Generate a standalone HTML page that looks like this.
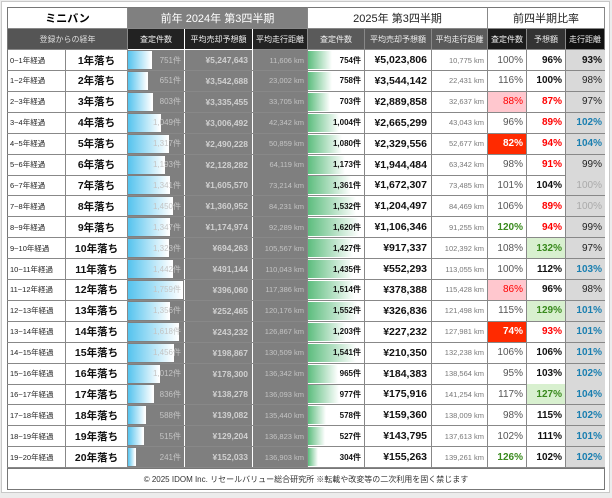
<!DOCTYPE html>
<html><head><meta charset="utf-8">
<style>
*{box-sizing:border-box;margin:0;padding:0}
body{width:612px;height:498px;background:#ececec;font-family:"Liberation Sans","Noto Sans CJK JP",sans-serif;position:relative;overflow:hidden}
#card{position:absolute;left:1px;top:1px;width:609px;height:492px;background:#fff;border:1px solid #c8c8c8}
.h{position:absolute;display:flex;align-items:center;justify-content:center;border-right:1px solid #888;border-bottom:1px solid #888;white-space:nowrap}
.r{position:absolute;left:7px;width:598px;height:21px;display:flex;border-bottom:1px solid #888}
.r>div{height:100%;display:flex;align-items:center;position:relative;border-right:1px solid #888;white-space:nowrap}
.a{width:59px;font-size:7.5px;padding-left:3px;color:#222}
.b{width:62px;font-size:10.5px;font-weight:bold;justify-content:center;color:#111}
.c{width:57px;background:#7f7f7f;justify-content:flex-end;padding-right:3px;font-size:8px;color:#c4c4c4;border-right:1px solid #fff!important}
.d{width:68px;background:#7f7f7f;justify-content:flex-end;padding-right:4px;font-size:8.5px;font-weight:bold;color:#d0d0d0;border-right:1px solid #fff!important}
.e{width:55px;background:#7f7f7f;justify-content:flex-end;padding-right:3px;font-size:7.5px;color:#c4c4c4}
.f{width:57px;justify-content:flex-end;padding-right:3px;font-size:8px;font-weight:bold;color:#111}
.g{width:67px;justify-content:flex-end;padding-right:4px;font-size:10.5px;font-weight:bold;color:#111}
.i{width:56px;justify-content:flex-end;padding-right:3px;font-size:7.5px;color:#777}
.j{width:39px;justify-content:flex-end;padding-right:3px;font-size:10px;color:#555}
.k{width:39px;justify-content:flex-end;padding-right:3px;font-size:10px;font-weight:bold;color:#111}
.l{width:39px;justify-content:flex-end;padding-right:3px;font-size:10px;color:#222;background:#d9d9d9;border-right:none!important}
.bb{position:absolute;left:0;top:1px;bottom:1px;background:linear-gradient(90deg,#55c3ee,#fff);border-right:1px solid #fff}
.gb{position:absolute;left:0;top:1px;bottom:1px;background:linear-gradient(90deg,#5dbd7e,#fff)}
.t{position:relative}
.red{color:#f00;font-weight:bold}
.pink{background:#ffc7ce;color:#f00}
.rb{background:#ff2a00;color:#fff;font-weight:bold}
.gr{color:#3a8a1e;font-weight:bold}
.gbg{background:#d8f0cf;color:#3a8a1e;font-weight:bold}
.bl{color:#1a7fb0;font-weight:bold}
.gy{color:#aaa}
.bk{font-weight:bold;color:#111}
.s{font-size:8px}
</style></head><body>
<div id="card"></div>
<div style="position:absolute;left:7px;top:7px;width:598px;height:461px;border:1px solid #777;border-bottom:none"></div>
<div class="h" style="left:7px;top:7px;width:121px;height:22px;font-size:11px;font-weight:bold;background:#fff;border-left:1px solid #777;border-top:1px solid #777">ミニバン</div>
<div class="h" style="left:128px;top:7px;width:180px;height:22px;font-size:11px;background:#808080;color:#fff;border-top:1px solid #777">前年 2024年 第3四半期</div>
<div class="h" style="left:308px;top:7px;width:180px;height:22px;font-size:11px;background:#fff;color:#222;border-top:1px solid #777">2025年 第3四半期</div>
<div class="h" style="left:488px;top:7px;width:117px;height:22px;font-size:11px;background:#fff;color:#222;border-top:1px solid #777">前四半期比率</div>
<div class="h s" style="left:7px;top:29px;width:121px;height:21px;background:#555;color:#ddd;border-left:1px solid #777">登録からの経年</div>
<div class="h s" style="left:128px;top:29px;width:57px;height:21px;background:#222;color:#eee;border-color:#fff">査定件数</div>
<div class="h s" style="left:185px;top:29px;width:68px;height:21px;background:#222;color:#eee;border-color:#fff">平均売却予想額</div>
<div class="h s" style="left:253px;top:29px;width:55px;height:21px;background:#222;color:#eee">平均走行距離</div>
<div class="h s" style="left:308px;top:29px;width:57px;height:21px;background:#5a5a5a;color:#eee">査定件数</div>
<div class="h s" style="left:365px;top:29px;width:67px;height:21px;background:#5a5a5a;color:#eee">平均売却予想額</div>
<div class="h s" style="left:432px;top:29px;width:56px;height:21px;background:#5a5a5a;color:#eee">平均走行距離</div>
<div class="h s" style="left:488px;top:29px;width:39px;height:21px;background:#1c1c1c;color:#eee">査定件数</div>
<div class="h s" style="left:527px;top:29px;width:39px;height:21px;background:#333;color:#eee">予想額</div>
<div class="h s" style="left:566px;top:29px;width:39px;height:21px;background:#111;color:#eee;border-right:1px solid #777">走行距離</div>

<div class="r" style="top:50px"><div class="a">0~1年経過</div><div class="b">1年落ち</div><div class="c"><i class="bb" style="width:23.5px"></i><span class="t">751件</span></div><div class="d">¥5,247,643</div><div class="e">11,606 km</div><div class="f"><i class="gb" style="width:23.6px"></i><span class="t">754件</span></div><div class="g">¥5,023,806</div><div class="i">10,775 km</div><div class="j">100%</div><div class="k">96%</div><div class="l bk">93%</div></div>
<div class="r" style="top:70.9px"><div class="a">1~2年経過</div><div class="b">2年落ち</div><div class="c"><i class="bb" style="width:20.4px"></i><span class="t">651件</span></div><div class="d">¥3,542,688</div><div class="e">23,002 km</div><div class="f"><i class="gb" style="width:23.7px"></i><span class="t">758件</span></div><div class="g">¥3,544,142</div><div class="i">22,431 km</div><div class="j">116%</div><div class="k">100%</div><div class="l">98%</div></div>
<div class="r" style="top:91.8px"><div class="a">2~3年経過</div><div class="b">3年落ち</div><div class="c"><i class="bb" style="width:25.1px"></i><span class="t">803件</span></div><div class="d">¥3,335,455</div><div class="e">33,705 km</div><div class="f"><i class="gb" style="width:22px"></i><span class="t">703件</span></div><div class="g">¥2,889,858</div><div class="i">32,637 km</div><div class="j pink">88%</div><div class="k red">87%</div><div class="l">97%</div></div>
<div class="r" style="top:112.7px"><div class="a">3~4年経過</div><div class="b">4年落ち</div><div class="c"><i class="bb" style="width:32.8px"></i><span class="t">1,049件</span></div><div class="d">¥3,006,492</div><div class="e">42,342 km</div><div class="f"><i class="gb" style="width:31.4px"></i><span class="t">1,004件</span></div><div class="g">¥2,665,299</div><div class="i">43,043 km</div><div class="j">96%</div><div class="k red">89%</div><div class="l bl">102%</div></div>
<div class="r" style="top:133.6px"><div class="a">4~5年経過</div><div class="b">5年落ち</div><div class="c"><i class="bb" style="width:41.2px"></i><span class="t">1,317件</span></div><div class="d">¥2,490,228</div><div class="e">50,859 km</div><div class="f"><i class="gb" style="width:33.8px"></i><span class="t">1,080件</span></div><div class="g">¥2,329,556</div><div class="i">52,677 km</div><div class="j rb">82%</div><div class="k red">94%</div><div class="l bl">104%</div></div>
<div class="r" style="top:154.5px"><div class="a">5~6年経過</div><div class="b">6年落ち</div><div class="c"><i class="bb" style="width:37.3px"></i><span class="t">1,193件</span></div><div class="d">¥2,128,282</div><div class="e">64,119 km</div><div class="f"><i class="gb" style="width:36.7px"></i><span class="t">1,173件</span></div><div class="g">¥1,944,484</div><div class="i">63,342 km</div><div class="j">98%</div><div class="k red">91%</div><div class="l">99%</div></div>
<div class="r" style="top:175.4px"><div class="a">6~7年経過</div><div class="b">7年落ち</div><div class="c"><i class="bb" style="width:41.9px"></i><span class="t">1,341件</span></div><div class="d">¥1,605,570</div><div class="e">73,214 km</div><div class="f"><i class="gb" style="width:42.6px"></i><span class="t">1,361件</span></div><div class="g">¥1,672,307</div><div class="i">73,485 km</div><div class="j">101%</div><div class="k">104%</div><div class="l gy">100%</div></div>
<div class="r" style="top:196.3px"><div class="a">7~8年経過</div><div class="b">8年落ち</div><div class="c"><i class="bb" style="width:45.3px"></i><span class="t">1,450件</span></div><div class="d">¥1,360,952</div><div class="e">84,231 km</div><div class="f"><i class="gb" style="width:47.9px"></i><span class="t">1,532件</span></div><div class="g">¥1,204,497</div><div class="i">84,469 km</div><div class="j">106%</div><div class="k red">89%</div><div class="l gy">100%</div></div>
<div class="r" style="top:217.2px"><div class="a">8~9年経過</div><div class="b">9年落ち</div><div class="c"><i class="bb" style="width:42.1px"></i><span class="t">1,347件</span></div><div class="d">¥1,174,974</div><div class="e">92,289 km</div><div class="f"><i class="gb" style="width:50.7px"></i><span class="t">1,620件</span></div><div class="g">¥1,106,346</div><div class="i">91,255 km</div><div class="j gr">120%</div><div class="k red">94%</div><div class="l">99%</div></div>
<div class="r" style="top:238.1px"><div class="a">9~10年経過</div><div class="b">10年落ち</div><div class="c"><i class="bb" style="width:41.4px"></i><span class="t">1,323件</span></div><div class="d">¥694,263</div><div class="e">105,567 km</div><div class="f"><i class="gb" style="width:44.6px"></i><span class="t">1,427件</span></div><div class="g">¥917,337</div><div class="i">102,392 km</div><div class="j">108%</div><div class="k gbg">132%</div><div class="l">97%</div></div>
<div class="r" style="top:259px"><div class="a">10~11年経過</div><div class="b">11年落ち</div><div class="c"><i class="bb" style="width:45.1px"></i><span class="t">1,442件</span></div><div class="d">¥491,144</div><div class="e">110,043 km</div><div class="f"><i class="gb" style="width:44.9px"></i><span class="t">1,435件</span></div><div class="g">¥552,293</div><div class="i">113,055 km</div><div class="j">100%</div><div class="k">112%</div><div class="l bl">103%</div></div>
<div class="r" style="top:279.9px"><div class="a">11~12年経過</div><div class="b">12年落ち</div><div class="c"><i class="bb" style="width:55px"></i><span class="t">1,759件</span></div><div class="d">¥396,060</div><div class="e">117,386 km</div><div class="f"><i class="gb" style="width:47.3px"></i><span class="t">1,514件</span></div><div class="g">¥378,388</div><div class="i">115,428 km</div><div class="j pink">86%</div><div class="k">96%</div><div class="l">98%</div></div>
<div class="r" style="top:300.8px"><div class="a">12~13年経過</div><div class="b">13年落ち</div><div class="c"><i class="bb" style="width:42.4px"></i><span class="t">1,356件</span></div><div class="d">¥252,465</div><div class="e">120,176 km</div><div class="f"><i class="gb" style="width:48.5px"></i><span class="t">1,552件</span></div><div class="g">¥326,836</div><div class="i">121,498 km</div><div class="j">115%</div><div class="k gbg">129%</div><div class="l bl">101%</div></div>
<div class="r" style="top:321.7px"><div class="a">13~14年経過</div><div class="b">14年落ち</div><div class="c"><i class="bb" style="width:50.6px"></i><span class="t">1,618件</span></div><div class="d">¥243,232</div><div class="e">126,867 km</div><div class="f"><i class="gb" style="width:37.6px"></i><span class="t">1,203件</span></div><div class="g">¥227,232</div><div class="i">127,981 km</div><div class="j rb">74%</div><div class="k red">93%</div><div class="l bl">101%</div></div>
<div class="r" style="top:342.6px"><div class="a">14~15年経過</div><div class="b">15年落ち</div><div class="c"><i class="bb" style="width:45.5px"></i><span class="t">1,456件</span></div><div class="d">¥198,867</div><div class="e">130,509 km</div><div class="f"><i class="gb" style="width:48.2px"></i><span class="t">1,541件</span></div><div class="g">¥210,350</div><div class="i">132,238 km</div><div class="j">106%</div><div class="k">106%</div><div class="l bl">101%</div></div>
<div class="r" style="top:363.5px"><div class="a">15~16年経過</div><div class="b">16年落ち</div><div class="c"><i class="bb" style="width:31.6px"></i><span class="t">1,012件</span></div><div class="d">¥178,300</div><div class="e">136,342 km</div><div class="f"><i class="gb" style="width:30.2px"></i><span class="t">965件</span></div><div class="g">¥184,383</div><div class="i">138,564 km</div><div class="j">95%</div><div class="k">103%</div><div class="l bl">102%</div></div>
<div class="r" style="top:384.4px"><div class="a">16~17年経過</div><div class="b">17年落ち</div><div class="c"><i class="bb" style="width:26.1px"></i><span class="t">836件</span></div><div class="d">¥138,278</div><div class="e">136,093 km</div><div class="f"><i class="gb" style="width:30.5px"></i><span class="t">977件</span></div><div class="g">¥175,916</div><div class="i">141,254 km</div><div class="j">117%</div><div class="k gbg">127%</div><div class="l bl">104%</div></div>
<div class="r" style="top:405.3px"><div class="a">17~18年経過</div><div class="b">18年落ち</div><div class="c"><i class="bb" style="width:18.4px"></i><span class="t">588件</span></div><div class="d">¥139,082</div><div class="e">135,440 km</div><div class="f"><i class="gb" style="width:18.1px"></i><span class="t">578件</span></div><div class="g">¥159,360</div><div class="i">138,009 km</div><div class="j">98%</div><div class="k">115%</div><div class="l bl">102%</div></div>
<div class="r" style="top:426.2px"><div class="a">18~19年経過</div><div class="b">19年落ち</div><div class="c"><i class="bb" style="width:16.1px"></i><span class="t">515件</span></div><div class="d">¥129,204</div><div class="e">136,823 km</div><div class="f"><i class="gb" style="width:16.5px"></i><span class="t">527件</span></div><div class="g">¥143,795</div><div class="i">137,613 km</div><div class="j">102%</div><div class="k">111%</div><div class="l bl">101%</div></div>
<div class="r" style="top:447.1px"><div class="a">19~20年経過</div><div class="b">20年落ち</div><div class="c"><i class="bb" style="width:7.5px"></i><span class="t">241件</span></div><div class="d">¥152,033</div><div class="e">136,903 km</div><div class="f"><i class="gb" style="width:9.5px"></i><span class="t">304件</span></div><div class="g">¥155,263</div><div class="i">139,261 km</div><div class="j gr">126%</div><div class="k">102%</div><div class="l bl">102%</div></div>

<div style="position:absolute;left:7px;top:468px;width:598px;height:22px;border:1px solid #777;display:flex;align-items:center;justify-content:center;font-size:8px;color:#333">© 2025 IDOM Inc. リセールバリュー総合研究所 ※転載や改変等の二次利用を固く禁じます</div>
</body></html>
